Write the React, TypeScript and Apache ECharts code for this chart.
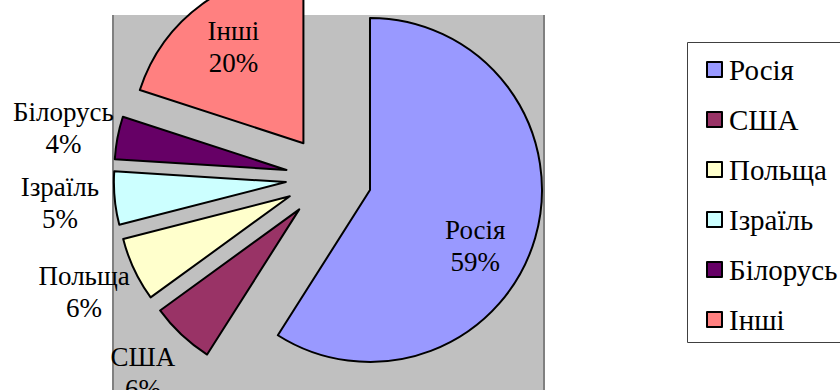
import { useEffect, useRef } from "react";
import * as echarts from "echarts";

// Share of each destination, percent
const countries = ["Росія", "США", "Польща", "Ізраїль", "Білорусь", "Інші"];
const shares = [59, 6, 6, 5, 4, 20];
const sliceColors = ["#9999FF", "#993366", "#FFFFCC", "#CCFFFF", "#660066", "#FF8080"];

const FONT = "Liberation Serif";

export default function App() {
  const ref = useRef<HTMLDivElement>(null);

  useEffect(() => {
    const chart = echarts.init(ref.current!, null, { renderer: "svg" });

    const pieRadius = 172;
    const biggest = Math.max(...shares);

    const data = countries.map((name, i) => {
      const inner = shares[i] >= 10;
      return {
        name,
        value: shares[i],
        selected: true,
        itemStyle: { color: sliceColors[i] },
        label: {
          position: "outside",
          // the largest slice's caption sits a little lower and to the left
          padding: shares[i] === biggest ? [46, 18, 0, 0] : 0,
        },
        // inner captions use a negative guide length to land inside the slice
        labelLine: inner
          ? { show: false, length: -53, length2: 0 }
          : { show: false, length: 52, length2: 3 },
      };
    });

    chart.setOption({
      animation: false,
      backgroundColor: "#ffffff",
      textStyle: { fontFamily: FONT },
      graphic: [
        {
          type: "rect",
          z: 0,
          shape: { x: 112, y: 15, width: 433, height: 400 },
          style: { fill: "#C0C0C0" },
        },
        {
          type: "line",
          z: 1,
          shape: { x1: 113, y1: 15, x2: 113, y2: 400 },
          style: { stroke: "#808080", lineWidth: 2 },
        },
        {
          type: "line",
          z: 1,
          shape: { x1: 544, y1: 15, x2: 544, y2: 400 },
          style: { stroke: "#808080", lineWidth: 2 },
        },
        {
          type: "rect",
          z: 1,
          shape: { x: 687.5, y: 42.5, width: 200, height: 300 },
          style: { fill: "#ffffff", stroke: "#404040", lineWidth: 1 },
        },
      ],
      legend: {
        orient: "vertical",
        left: 706,
        top: 55,
        padding: 0,
        itemWidth: 15,
        itemHeight: 15,
        itemGap: 21,
        icon: "rect",
        selectedMode: false,
        z: 5,
        itemStyle: { borderColor: "#000", borderWidth: 2 },
        textStyle: { fontFamily: FONT, fontSize: 29, lineHeight: 29, color: "#000", padding: [0, 0, 0, 2] },
        data: countries,
      },
      series: [
        {
          type: "pie",
          center: [328.7, 178],
          radius: pieRadius,
          startAngle: 90,
          clockwise: true,
          selectedMode: "multiple",
          selectedOffset: 43,
          avoidLabelOverlap: false,
          percentPrecision: 0,
          z: 3,
          emphasis: { disabled: true },
          itemStyle: { borderColor: "#000", borderWidth: 2 },
          select: { itemStyle: { borderColor: "#000", borderWidth: 2 } },
          label: {
            show: true,
            formatter: "{t|{b}}\n{t|{d}%}",
            fontFamily: FONT,
            fontSize: 27,
            lineHeight: 32,
            color: "#000",
            distanceToLabelLine: 0,
            rich: {
              t: { fontFamily: FONT, fontSize: 27, lineHeight: 32, color: "#000" },
            },
          },
          labelLayout: { align: "center", hideOverlap: false },
          data,
        },
      ],
    });

    return () => chart.dispose();
  }, []);

  return (
    <div
      ref={ref}
      style={{ position: "fixed", left: 0, top: 0, width: 840, height: 390 }}
    />
  );
}
